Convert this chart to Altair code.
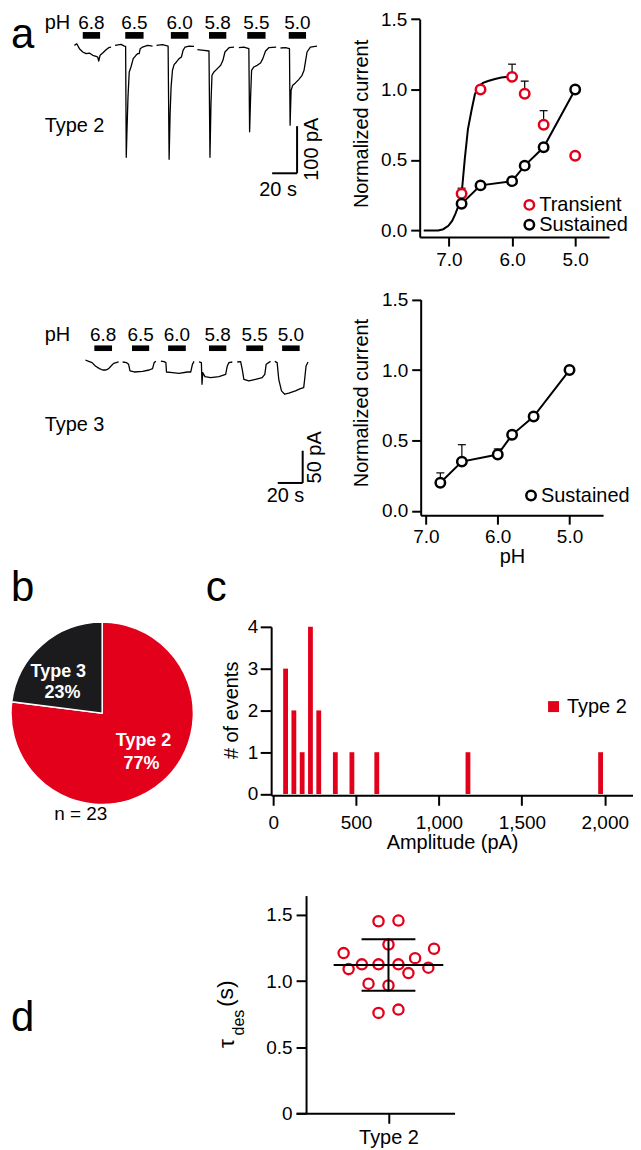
import altair as alt
import pandas as pd

RED = "#E2001A"
PIE_DARK = "#1B1B1D"
FONT = "Liberation Sans"

# ---------------- a (top): Type 2 traces, time (s) / current (pA) ----------------
PH_STEPS = ["6.8", "6.5", "6.0", "5.8", "5.5", "5.0"]

T2_68_T = [50.9, 52.8, 54.9, 57.6, 60.3, 62.9, 65.6, 68.3, 69.6, 70.4, 71.5, 73.6, 76.3, 78.4, 80.3]
T2_68_I = [3.5, 7.0, -3.5, -10.6, -14.2, -12.8, -17.7, -19.9, -21.3, -29.8, -17.7, -12.8, -5.7, -1.4, 0.0]
T2_65_T = [83.5, 88.3, 91.0, 92.0, 92.5, 93.1, 93.9, 94.9, 96.3, 98.1, 100.3, 101.6, 102.9, 103.7, 105.6, 109.6, 113.6]
T2_65_I = [3.5, 5.7, 2.1, 1.4, -235.5, -177.3, -106.4, -53.2, -42.6, -24.8, -17.7, -14.2, -14.2, -3.5, 0.0, 3.5, 2.1]
T2_60_T = [116.8, 121.6, 126.1, 126.9, 127.7, 128.5, 129.6, 130.9, 132.8, 134.9, 136.8, 138.1, 139.7, 142.9, 146.9]
T2_60_I = [3.5, 5.0, 2.1, -239.7, -141.8, -85.1, -49.6, -37.6, -31.9, -24.8, -21.3, -7.1, 0.0, 2.1, 1.4]
T2_58_T = [149.6, 154.9, 158.9, 159.7, 160.5, 161.3, 162.9, 165.6, 168.3, 170.1, 171.7, 175.0, 179.0]
T2_58_I = [-5.7, -7.1, -8.5, -235.5, -120.6, -60.3, -53.2, -46.1, -39.0, -28.4, -10.6, -1.4, 0.0]
T2_55_T = [182.9, 186.9, 190.9, 191.5, 192.3, 193.1, 194.9, 197.6, 200.3, 202.1, 204.3, 206.9, 212.8]
T2_55_I = [-1.4, 0.0, -3.5, -180.8, -106.4, -49.6, -42.6, -39.0, -34.0, -24.8, -8.5, -1.4, 0.0]
T2_50_T = [216.3, 220.3, 223.5, 224.0, 224.8, 226.1, 228.3, 230.9, 233.6, 235.2, 236.3, 237.6, 240.3, 245.6]
T2_50_I = [-2.1, -1.4, -3.5, -166.7, -92.2, -81.6, -76.6, -69.5, -60.3, -49.6, -31.9, -10.6, 0.0, 2.1]
T2_ON = [57.6, 91.7, 128.3, 158.9, 189.6, 222.9]
T2_OFF = [71.5, 106.4, 142.4, 172.8, 204.3, 236.8]

# ---------------- a (bottom): Type 3 traces ----------------
T3_68_T = [59.7, 62.4, 65.1, 67.7, 71.0, 73.6, 76.3, 78.4, 80.3, 82.4, 86.4]
T3_68_I = [3.1, 1.0, -1.0, -6.2, -10.3, -12.4, -12.4, -10.3, -6.2, -2.1, 0.0]
T3_65_T = [89.6, 92.8, 94.4, 95.5, 98.9, 105.6, 110.9, 113.6, 114.9, 116.3]
T3_65_I = [0.0, -1.0, -3.6, -13.9, -15.5, -14.4, -12.4, -10.3, -1.0, 1.0]
T3_60_T = [120.3, 122.9, 124.3, 124.8, 129.6, 134.9, 141.6, 144.3, 145.6, 146.9]
T3_60_I = [1.5, 0.5, -1.0, -15.5, -16.5, -17.5, -15.5, -15.5, -3.6, 1.0]
T3_58_T = [150.9, 152.8, 153.3, 153.9, 155.7, 160.3, 166.9, 172.3, 173.6, 174.9, 177.6]
T3_58_I = [0.0, -1.0, -34.5, -16.5, -22.7, -24.2, -22.7, -19.1, -6.2, -1.0, 0.0]
T3_55_T = [181.6, 184.3, 185.6, 186.9, 190.9, 196.3, 201.6, 203.7, 204.8, 208.3]
T3_55_I = [0.0, 0.5, -11.3, -26.8, -29.4, -26.8, -24.2, -19.1, -3.6, 1.0]
T3_50_T = [211.7, 213.6, 214.9, 217.1, 219.7, 223.0, 228.3, 232.3, 234.9, 235.7, 236.8, 238.4]
T3_50_I = [1.0, -1.0, -26.8, -44.8, -50.0, -48.4, -44.8, -41.2, -39.7, -26.8, -6.2, 0.0]
T3_ON = [66.9, 97.1, 126.1, 158.9, 188.8, 217.6]
T3_OFF = [81.1, 110.9, 140.3, 172.8, 202.4, 231.7]

# ---------------- a (right): dose response ----------------
PH_VALUES = [6.8, 6.5, 6.0, 5.8, 5.5, 5.0]
TRANSIENT = [0.26, 1.00, 1.09, 0.97, 0.75, 0.53]
TRANSIENT_SEM = [0.04, 0.0, 0.09, 0.09, 0.10, 0.02]
SUSTAINED_2 = [0.19, 0.32, 0.35, 0.46, 0.59, 1.00]
FIT_PH = [7.40, 7.17, 7.09, 7.01, 6.95, 6.90, 6.84, 6.80, 6.75, 6.70, 6.64, 6.59,
          6.54, 6.46, 6.38, 6.27, 6.17, 6.06, 6.01]
FIT_VAL = [0.0, 0.0, 0.009, 0.033, 0.068, 0.116, 0.186, 0.257, 0.505, 0.717, 0.858, 0.965,
           1.019, 1.047, 1.061, 1.075, 1.085, 1.090, 1.090]
SUSTAINED_3 = [0.20, 0.35, 0.40, 0.54, 0.67, 1.00]
SUSTAINED_3_SEM = [0.07, 0.12, 0.04, 0.01, 0.0, 0.0]

# ---------------- b: pie ----------------
PIE_TYPES = ["Type 2", "Type 3"]
PIE_PCT = [77, 23]

# ---------------- c: histogram ----------------
AMP_BIN_CENTER = [75, 125, 175, 225, 275, 375, 475, 625, 1175, 1975]
AMP_COUNT = [3, 2, 1, 4, 2, 1, 1, 1, 1, 1]

# ---------------- d: tau des scatter ----------------
TAU = [1.452, 1.457, 1.276, 1.211, 1.244, 1.090, 1.126, 1.126, 1.126, 1.173, 1.060, 1.101,
       0.980, 0.967, 0.759, 0.784]
TAU_SPREAD = [-0.10, 0.10, 0.0, -0.45, 0.457, -0.40, -0.267, -0.10, 0.10, 0.267, 0.20, 0.40,
              -0.20, 0.0, -0.10, 0.10]

COL1_W = 261  # width of the left column of the grid


def long_traces(ts, cs):
    rows = []
    for ph, t_list, i_list in zip(PH_STEPS, ts, cs):
        for k, (t, c) in enumerate(zip(t_list, i_list)):
            rows.append({"ph": ph, "t": t, "I": c, "k": k})
    return pd.DataFrame(rows)


ONE = pd.DataFrame({"z": [0]})


def traces_panel(ts, cs, on, off, xs, ys, bar_lo, bar_hi, lab_i, name, name_i,
                 sb_x, sb_x0, sb_top, sb_bot, pa_text, pa_x, pa_y, s_x, s_y, h, extra=()):
    df_tr = long_traces(ts, cs)
    df_bar = pd.DataFrame({"ph": PH_STEPS, "on": on, "off": off})

    def X(f):
        return alt.X(f, scale=xs, axis=None)

    def Y(f):
        return alt.Y(f, scale=ys, axis=None)

    def XD(v):
        return alt.XDatum(v, scale=xs, axis=None)

    def YD(v):
        return alt.YDatum(v, scale=ys, axis=None)

    one = alt.Chart(ONE)
    layers = [
        alt.Chart(df_tr).mark_line(color="black", strokeWidth=1.3, strokeJoin="round").encode(
            x=X("t:Q"), y=Y("I:Q"), detail="ph:N", order="k:Q"),
        alt.Chart(df_bar).mark_rect(color="black").encode(
            x=X("on:Q"), x2="off:Q", y=YD(bar_lo), y2=alt.Y2Datum(bar_hi)),
        alt.Chart(df_bar).transform_calculate(mid="(datum.on + datum.off) / 2").mark_text(
            fontSize=19, baseline="alphabetic").encode(x=X("mid:Q"), y=YD(lab_i), text="ph:N"),
        one.mark_text(text="pH", fontSize=20, align="left", baseline="alphabetic").encode(
            x=XD(27), y=YD(lab_i)),
        one.mark_text(text=name, fontSize=20, align="left", baseline="alphabetic").encode(
            x=XD(27), y=YD(name_i)),
        one.mark_rule(color="black", strokeWidth=2).encode(
            x=XD(sb_x), y=YD(sb_top), y2=alt.Y2Datum(sb_bot)),
        one.mark_rule(color="black", strokeWidth=2).encode(
            x=XD(sb_x0), x2=alt.X2Datum(sb_x), y=YD(sb_bot)),
        one.mark_text(text=pa_text, fontSize=20, angle=270, align="center", baseline="middle").encode(
            x=XD(pa_x), y=YD(pa_y)),
        one.mark_text(text="20 s", fontSize=20, align="center", baseline="alphabetic").encode(
            x=XD(s_x), y=YD(s_y)),
    ] + list(extra)
    return alt.layer(*layers).properties(width=COL1_W, height=h)


letter_a = alt.Chart(ONE).mark_text(text="a", fontSize=42, align="left",
                                    baseline="alphabetic").encode(x=alt.value(0), y=alt.value(36.5))

A1 = traces_panel(
    [T2_68_T, T2_65_T, T2_60_T, T2_58_T, T2_55_T, T2_50_T],
    [T2_68_I, T2_65_I, T2_60_I, T2_58_I, T2_55_I, T2_50_I],
    T2_ON, T2_OFF,
    alt.Scale(domain=[0, 328], range=[0, 410], nice=False, zero=False),
    alt.Scale(domain=[-405.7, 75.17], nice=False, zero=False),
    17.7, 32.0, 39.0, "Type 2", -180.8,
    229.6, 209.6, -168.9, -269.5, "100 pA", 241.9, -218.0, 214.3, -319.0,
    226, extra=[letter_a])

B1 = traces_panel(
    [T3_68_T, T3_65_T, T3_60_T, T3_58_T, T3_55_T, T3_50_T],
    [T3_68_I, T3_65_I, T3_60_I, T3_58_I, T3_55_I, T3_50_I],
    T3_ON, T3_OFF,
    alt.Scale(domain=[0, 328.8], range=[0, 411], nice=False, zero=False),
    alt.Scale(domain=[-237.6, 193.7], nice=False, zero=False),
    17.0, 25.7, 32.5, "Type 3", -106.6,
    234.1, 214.1, -137.6, -187.6, "50 pA", 244.3, -147.9, 220.3, -217.5,
    279)


def dose_panel(xs, ys, xaxis, yaxis, fit, lines, errs, pts, series_dom, series_rng, lx, ly, w, h):
    X = lambda f: alt.X(f, scale=xs, axis=xaxis)
    Y = lambda f: alt.Y(f, scale=ys, axis=yaxis)
    layers = []
    if fit is not None:
        layers.append(alt.Chart(fit).mark_line(color="black", strokeWidth=2).encode(
            x=X("pH:Q"), y=Y("val:Q")))
    layers.append(alt.Chart(lines).mark_line(color="black", strokeWidth=2).encode(
        x=X("pH:Q"), y=Y("val:Q")))
    ebase = alt.Chart(errs).transform_filter("datum.sem > 0").transform_calculate(
        top="datum.val + datum.sem")
    layers.append(ebase.mark_rule(color="black", strokeWidth=1.2).encode(
        x=X("pH:Q"), y=Y("val:Q"), y2="top:Q"))
    layers.append(ebase.mark_tick(orient="horizontal", size=8, thickness=1.2, color="black",
                                  opacity=1).encode(x=X("pH:Q"), y=Y("top:Q")))
    layers.append(alt.Chart(pts).mark_point(shape="circle", size=90, strokeWidth=2.5, fill="white",
                                            fillOpacity=1, opacity=1).encode(
        x=X("pH:Q"), y=Y("val:Q"),
        stroke=alt.Stroke("series:N", scale=alt.Scale(domain=series_dom, range=series_rng),
                          legend=alt.Legend(title=None, orient="none", legendX=lx, legendY=ly,
                                            symbolType="circle", symbolSize=90,
                                            symbolStrokeWidth=2.5, symbolFillColor="white",
                                            symbolOpacity=1, labelFontSize=20, labelOffset=0,
                                            padding=0, rowPadding=0, labelFont=FONT,
                                            labelColor="black")),
        order="k:Q"))
    return alt.layer(*layers).properties(width=w, height=h)


df_fit = pd.DataFrame({"pH": FIT_PH, "val": FIT_VAL})
df_sus2 = pd.DataFrame({"pH": PH_VALUES, "val": SUSTAINED_2})
df_tr = pd.DataFrame({"pH": PH_VALUES, "val": TRANSIENT, "sem": TRANSIENT_SEM})
df_pts2 = pd.concat([
    pd.DataFrame({"series": "Transient", "pH": PH_VALUES, "val": TRANSIENT}),
    pd.DataFrame({"series": "Sustained", "pH": PH_VALUES, "val": SUSTAINED_2}),
], ignore_index=True)
df_pts2["k"] = range(len(df_pts2))

A2 = dose_panel(
    alt.Scale(domain=[4.463, 7.464], range=[149, 339], reverse=True, nice=False, zero=False),
    alt.Scale(domain=[-0.047, 1.5], range=[226, 7.3], nice=False, zero=False),
    alt.Axis(values=[7, 6, 5], format=".1f", tickSize=9, labelPadding=5, title=None),
    alt.Axis(values=[0, 0.5, 1, 1.5], format=".1f", tickSize=9, labelPadding=4, offset=-149,
             title="Normalized current", titleX=-58.5, titleY=112, titleAngle=270,
             titleAlign="center", titleBaseline="middle"),
    df_fit, df_sus2, df_tr, df_pts2, ["Transient", "Sustained"], [RED, "black"],
    249, 183.7, 339, 226)

df_sus3 = pd.DataFrame({"pH": PH_VALUES, "val": SUSTAINED_3, "sem": SUSTAINED_3_SEM})
df_pts3 = pd.DataFrame({"series": "Sustained", "pH": PH_VALUES, "val": SUSTAINED_3})
df_pts3["k"] = range(len(df_pts3))

B2 = dose_panel(
    alt.Scale(domain=[4.532, 7.074], range=[150, 333], reverse=True, nice=False, zero=False),
    alt.Scale(domain=[-0.0304, 1.5], range=[279, 62.7], nice=False, zero=False),
    alt.Axis(values=[7, 6, 5], format=".1f", tickSize=9, labelPadding=3, title="pH",
             titleY=41.5, titleBaseline="middle", titleAlign="center"),
    alt.Axis(values=[0, 0.5, 1, 1.5], format=".1f", tickSize=9, labelPadding=4, offset=-150,
             title="Normalized current", titleX=-59.5, titleY=166, titleAngle=270,
             titleAlign="center", titleBaseline="middle"),
    None, df_sus3, df_sus3, df_pts3, ["Sustained"], ["black"],
    250.7, 249.3, 333, 279)

# ---------------- b: pie panel ----------------
df_pie = pd.DataFrame({"type": PIE_TYPES, "pct": PIE_PCT, "ord": [0, 1]})
pie = alt.Chart(df_pie).mark_arc(radius=91.5, stroke="white", strokeWidth=1.5).encode(
    theta=alt.Theta("pct:Q", stack=True),
    color=alt.Color("type:N", scale=alt.Scale(domain=PIE_TYPES, range=[RED, PIE_DARK]), legend=None),
    order=alt.Order("ord:Q"),
    x=alt.value(91.5), y=alt.value(198.7))


def label(text, x, y, size=18, weight="bold", color="white", align="center", angle=None):
    kw = dict(text=text, fontSize=size, fontWeight=weight, color=color, align=align,
              baseline="alphabetic")
    if angle is not None:
        kw["angle"] = angle
        kw["baseline"] = "middle"
    return alt.Chart(ONE).mark_text(**kw).encode(x=alt.value(x), y=alt.value(y))


C1 = alt.layer(
    pie,
    label("Type 3", 47.5, 162), label("23%", 51.7, 183.7),
    label("Type 2", 133, 232), label("77%", 131, 254.3),
    label("n = 23", 70, 306, size=19, weight="normal", color="black"),
    label("b", 0, 86.3, size=42, weight="normal", color="black", align="left"),
    label("c", 195.3, 86.3, size=42, weight="normal", color="black", align="left"),
).properties(width=COL1_W, height=281)

# ---------------- c: histogram ----------------
df_hist = pd.DataFrame({"center": AMP_BIN_CENTER, "count": AMP_COUNT, "grp": "Type 2"})
hx = alt.Scale(domain=[-12.0, 2170.4], nice=False, zero=False)
hy = alt.Scale(domain=[-0.031, 4], range=[281, 112], nice=False, zero=False)
C2 = alt.Chart(df_hist).transform_calculate(
    lo="datum.center - 14.5", hi="datum.center + 14.5").mark_rect().encode(
    x=alt.X("lo:Q", scale=hx, axis=alt.Axis(values=[0, 500, 1000, 1500, 2000], format=",d",
                                            tickSize=10, labelPadding=8,
                                            title="Amplitude (pA)", titleY=47.4,
                                            titleBaseline="middle", titleAlign="center")),
    x2="hi:Q",
    y=alt.Y("count:Q", scale=hy, axis=alt.Axis(values=[0, 1, 2, 3, 4], format="d", tickSize=11,
                                             labelPadding=2.5, title="# of events",
                                             titleX=-39.5, titleY=195.3, titleAngle=270,
                                             titleAlign="center", titleBaseline="middle")),
    y2=alt.Y2Datum(0),
    color=alt.Color("grp:N", scale=alt.Scale(domain=["Type 2"], range=[RED]),
                    legend=alt.Legend(title=None, orient="none", legendX=273.3, legendY=182,
                                      symbolType="square", symbolSize=121, symbolStrokeWidth=0,
                                      symbolOpacity=1, labelFontSize=20, labelOffset=3.5,
                                      padding=0, labelFont=FONT, labelColor="black")),
).properties(width=363, height=281)

# ---------------- d ----------------
D1 = alt.layer(
    label("d", 0, 236, size=42, weight="normal", color="black", align="left"),
).properties(width=COL1_W, height=319)

df_tau = pd.DataFrame({"spread": TAU_SPREAD, "tau": TAU})
dx = alt.Scale(domain=[-0.927, 0.663], range=[25, 184], nice=False, zero=False)
dy = alt.Scale(domain=[0, 1.646], range=[319, 100.6], nice=False, zero=False)
dxa = alt.Axis(values=[0], labelExpr="'Type 2'", tickSize=10, labelPadding=4, title=None,
               labelFontSize=20)
dya = alt.Axis(values=[0, 0.5, 1, 1.5],
               labelExpr="datum.value == 0 ? '0' : format(datum.value, '.1f')",
               tickSize=10, labelPadding=4, offset=-35, title=None)
DX = lambda f: alt.X(f, scale=dx, axis=dxa)
DY = lambda f: alt.Y(f, scale=dy, axis=dya)

tau_pts = alt.Chart(df_tau).mark_point(shape="circle", size=105, strokeWidth=2.3, filled=False,
                                       opacity=1, color=RED).encode(x=DX("spread:Q"), y=DY("tau:Q"))
stats = alt.Chart(df_tau).transform_aggregate(m="mean(tau)", s="stdev(tau)").transform_calculate(
    lo="datum.m - datum.s", hi="datum.m + datum.s", c0="0", mw0="-0.55", mw1="0.55",
    cw0="-0.27", cw1="0.27")
mean_rule = stats.mark_rule(color="black", strokeWidth=2).encode(
    x=DX("mw0:Q"), x2="mw1:Q", y=DY("m:Q"))
sd_rule = stats.mark_rule(color="black", strokeWidth=2).encode(
    x=DX("c0:Q"), y=DY("lo:Q"), y2="hi:Q")
cap_hi = stats.mark_rule(color="black", strokeWidth=2).encode(
    x=DX("cw0:Q"), x2="cw1:Q", y=DY("hi:Q"))
cap_lo = stats.mark_rule(color="black", strokeWidth=2).encode(
    x=DX("cw0:Q"), x2="cw1:Q", y=DY("lo:Q"))

D2 = alt.layer(
    tau_pts, mean_rule, sd_rule, cap_hi, cap_lo,
    label("\u03c4", -44, 249, size=23, weight="normal", color="black", angle=270),
    label("des", -32, 228, size=16, weight="normal", color="black", angle=270),
    label("(s)", -45, 199, size=23, weight="normal", color="black", angle=270),
).properties(width=184, height=319)

chart = alt.concat(A1, A2, B1, B2, C1, C2, D1, D2, columns=2, spacing=0, bounds="flush").resolve_scale(
    color="independent", stroke="independent").resolve_legend(
    color="independent", stroke="independent").properties(padding=0).configure(
    font=FONT).configure_view(stroke=None).configure_axis(
    domainColor="black", domainWidth=2, tickColor="black", tickWidth=2, labelColor="black",
    titleColor="black", labelFont=FONT, titleFont=FONT, labelFontSize=19, titleFontSize=20,
    titleFontWeight="normal", grid=False, labelFlush=False, labelOverlap=False).configure_text(
    font=FONT)

chart.save("out.html", embed_options={"renderer": "svg", "actions": False})
